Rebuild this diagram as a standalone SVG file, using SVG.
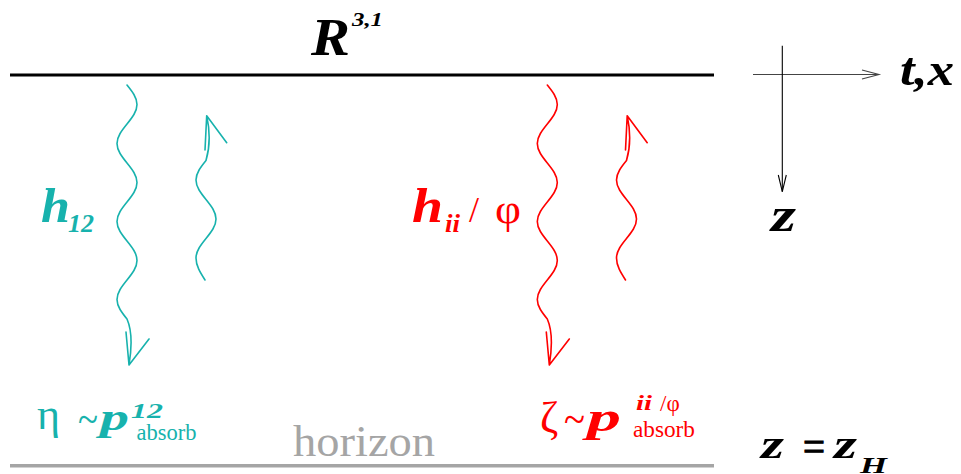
<svg xmlns="http://www.w3.org/2000/svg" xmlns:xlink="http://www.w3.org/1999/xlink" width="961" height="474" viewBox="0 0 961 474">
<style>
.m{font-family:"Liberation Serif","Times New Roman",serif;font-weight:bold;font-style:italic}
.r{font-family:"Liberation Serif","Times New Roman",serif;font-weight:normal;font-style:normal}
.teal{fill:#17b2ad}
.red{fill:#ff0000}
.wave{fill:none;stroke-width:1.6;stroke-linecap:round;stroke-linejoin:round}
.tw{stroke:#17b2ad}
.rw{stroke:#ff0000}
.ax{fill:none;stroke-width:1.1}
</style>
<defs>
<path id="longwave" d="M127,85 c5.12,6.36 10,12.44 10,19.5 c0,7.06 -4.880,13.14 -10,19.5 c-5.12,6.36 -10,12.44 -10,19.5 c0,7.06 4.88,13.14 10,19.5 c5.12,6.36 10,12.44 10,19.5 c0,7.06 -4.88,13.14 -10,19.5 c-5.12,6.36 -10,12.44 -10,19.5 c0,7.06 4.88,13.14 10,19.5 c5.12,6.36 10,12.44 10,19.5 c0,7.06 -4.88,13.14 -10,19.5 c-5.12,6.36 -10,12.44 -10,19.5 c0,7.06 4.88,13.14 10,19.5 Q134,335 129,365 M126,332 L129,365 L149,339"/>
<path id="shortwave" d="M205,280 c-4.6,-7.2 -9,-14 -9,-22 c0,-7.06 4.88,-13.14 10,-19.5 c5.12,-6.36 10,-12.44 10,-19.5 c0,-7.06 -4.88,-13.14 -10,-19.5 c-5.12,-6.36 -10,-12.44 -10,-19.5 c0,-7.06 4.88,-13.14 10,-19.5 Q212,140 206.7,115.7 M205,150 L206.7,115.7 L226.7,142.7"/>
</defs>

<g id="boundary">
<line x1="10" y1="75" x2="714" y2="75" stroke="#000" stroke-width="3.2"/>
<text class="m" x="311" y="55" font-size="52" textLength="39" lengthAdjust="spacingAndGlyphs">R</text>
<text class="m" x="352" y="26" font-size="18" textLength="31" lengthAdjust="spacingAndGlyphs">3,1</text>
</g>

<g id="horizon">
<line x1="10" y1="465.7" x2="714" y2="465.7" stroke="#a5a5a5" stroke-width="3.4"/>
<text class="r" x="293" y="456" font-size="45" fill="#a5a5a5" textLength="142" lengthAdjust="spacingAndGlyphs">horizon</text>
</g>

<g id="axes">
<line class="ax" x1="753" y1="74.5" x2="879" y2="74.5" stroke="#444"/>
<polyline class="ax" points="862,70 879,74.5 862,79" stroke="#444"/>
<line class="ax" x1="782.3" y1="45.7" x2="782.3" y2="191.7" stroke="#000"/>
<polyline class="ax" points="778.3,175 782.3,191.7 786.3,175" stroke="#000"/>
<text class="m" x="900" y="85" font-size="46" textLength="54" lengthAdjust="spacingAndGlyphs">t,x</text>
<text class="m" x="771" y="231" font-size="48" textLength="25" lengthAdjust="spacingAndGlyphs">z</text>
</g>

<g id="h12-label" class="teal">
<text class="m" x="41" y="221.7" font-size="48" textLength="29" lengthAdjust="spacingAndGlyphs">h</text>
<text class="m" x="68" y="231.7" font-size="26" textLength="26" lengthAdjust="spacingAndGlyphs">12</text>
</g>

<g id="hii-label" class="red">
<text class="m" x="412" y="221.7" font-size="48" textLength="31" lengthAdjust="spacingAndGlyphs">h</text>
<text class="m" x="445" y="231.7" font-size="26" textLength="15" lengthAdjust="spacingAndGlyphs">ii</text>
<text class="r" x="469" y="222" font-size="36">/</text>
<text class="r" x="495" y="223" font-size="42" textLength="26" lengthAdjust="spacingAndGlyphs">φ</text>
</g>

<g id="eta-label" class="teal">
<text class="r" x="37" y="429" font-size="44">η</text>
<text class="r" x="78" y="434" font-size="44" textLength="20" lengthAdjust="spacingAndGlyphs">~</text>
<text class="m" x="100" y="430" font-size="38" textLength="29" lengthAdjust="spacingAndGlyphs">p</text>
<text class="m" x="131" y="418" font-size="22" textLength="32" lengthAdjust="spacingAndGlyphs">12</text>
<text class="r" x="136.5" y="440" font-size="23" textLength="60" lengthAdjust="spacingAndGlyphs">absorb</text>
</g>

<g id="zeta-label" class="red">
<text class="r" x="540" y="432" font-size="44">ζ</text>
<text class="r" x="564" y="434" font-size="44" textLength="21" lengthAdjust="spacingAndGlyphs">~</text>
<text class="m" x="587" y="431" font-size="40" textLength="34" lengthAdjust="spacingAndGlyphs">p</text>
<text class="m" x="636" y="410" font-size="22" textLength="16" lengthAdjust="spacingAndGlyphs">ii</text>
<text class="r" x="660" y="411" font-size="23">/φ</text>
<text class="r" x="633" y="437" font-size="23" textLength="62" lengthAdjust="spacingAndGlyphs">absorb</text>
</g>

<g id="zH-label">
<text class="m" x="761" y="458" font-size="40" textLength="23" lengthAdjust="spacingAndGlyphs">z</text>
<text class="r" x="803" y="461" font-size="44" font-weight="bold" stroke="#000" stroke-width="1.2" textLength="22" lengthAdjust="spacingAndGlyphs">=</text>
<text class="m" x="834" y="458" font-size="40" textLength="23" lengthAdjust="spacingAndGlyphs">z</text>
<text class="m" x="860" y="473" font-size="24" textLength="27" lengthAdjust="spacingAndGlyphs">H</text>
</g>

<g id="connectors">
<use xlink:href="#longwave" class="wave tw"/>
<use xlink:href="#shortwave" class="wave tw"/>
<use xlink:href="#longwave" class="wave rw" transform="translate(420.3,0)"/>
<use xlink:href="#shortwave" class="wave rw" transform="translate(420.5,0)"/>
</g>
</svg>
